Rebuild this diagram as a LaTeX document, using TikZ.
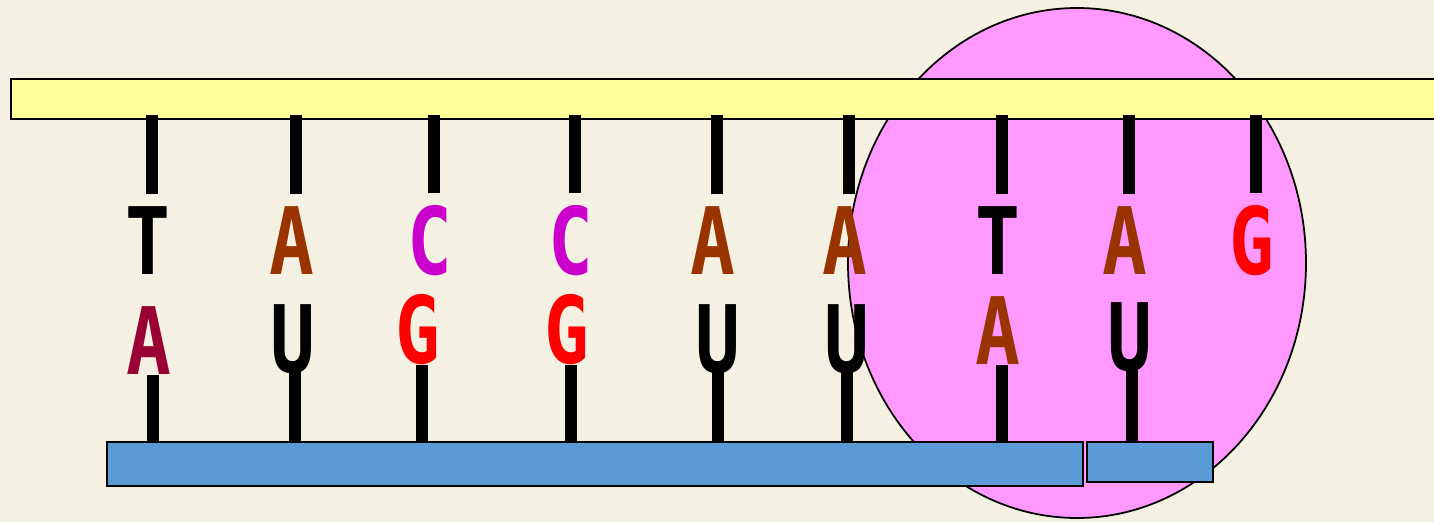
\documentclass[tikz,border=0pt]{standalone}
\usepackage{fontspec}
\usepackage{xcolor}
\usepackage{tikz}
\newfontfamily\nucfont{DejaVu Sans Mono}

\definecolor{paper}{RGB}{244,241,226}
\definecolor{dnayellow}{RGB}{255,255,153}
\definecolor{polpink}{RGB}{255,153,255}
\definecolor{rnablue}{RGB}{91,155,213}
\definecolor{abrown}{RGB}{153,51,0}
\definecolor{cmagenta}{RGB}{204,0,204}
\definecolor{acrimson}{RGB}{153,0,51}

\tikzset{
    nucleo/.style={font=\nucfont\bfseries\fontsize{26.5}{26.5}\selectfont, inner sep=0pt, anchor=base, xscale=0.8},
    bond/.style={line width=3.2pt},
    strand/.style={draw, line width=0.7pt, inner sep=0pt, anchor=south west}
}

\begin{document}
\begin{tikzpicture}
    % Background
    \useasboundingbox (0,0) rectangle (14.34,5.22);
    \clip (0,0) rectangle (14.34,5.22);
    \fill [paper] (0,0) rectangle (14.34,5.22);

    % RNA polymerase
    \filldraw [fill=polpink, draw=black, line width=0.5pt] (10.77,2.59) ellipse (2.29 and 2.55);

    % DNA template strand (bonds reach a little into it)
    \node [strand, fill=dnayellow, minimum width=14.6cm, minimum height=0.4cm, outer sep=-1.2pt] (dna) at (0.15,4.07) {};

    % mRNA
    \node [strand, fill=rnablue, minimum width=9.76cm, minimum height=0.44cm] (mrna) at (1.06,0.35) {};
    \node [strand, fill=rnablue, minimum width=1.26cm, minimum height=0.40cm] (mrnatip) at (10.86,0.39) {};

    % DNA bases
    \node [nucleo] (d1) at (1.48,2.47) {T};
    \node [nucleo, abrown] (d2) at (2.92,2.47) {A};
    \node [nucleo, cmagenta] (d3) at (4.30,2.47) {C};
    \node [nucleo, cmagenta] (d4) at (5.71,2.47) {C};
    \node [nucleo, abrown] (d5) at (7.13,2.47) {A};
    \node [nucleo, abrown] (d6) at (8.45,2.47) {A};
    \node [nucleo] (d7) at (9.98,2.47) {T};
    \node [nucleo, abrown] (d8) at (11.25,2.47) {A};
    \node [nucleo, red] (d9) at (12.52,2.47) {G};

    % RNA bases
    \node [nucleo, acrimson] (r1) at (1.49,1.48) {A};
    \node [nucleo] (r2) at (2.93,1.50) {U};
    \node [nucleo, red] (r3) at (4.18,1.59) {G};
    \node [nucleo, red] (r4) at (5.67,1.59) {G};
    \node [nucleo] (r5) at (7.18,1.50) {U};
    \node [nucleo] (r6) at (8.47,1.50) {U};
    \node [nucleo, abrown] (r7) at (9.98,1.58) {A};
    \node [nucleo] (r8) at (11.30,1.52) {U};

    % Bonds to the DNA strand
    \draw [bond] ([shift={(0.04,0.12)}]d1.north) -- ([xshift=0.04cm]d1.north |- dna.south);
    \draw [bond] ([shift={(0.04,0.12)}]d2.north) -- ([xshift=0.04cm]d2.north |- dna.south);
    \draw [bond] ([shift={(0.04,0.12)}]d3.north) -- ([xshift=0.04cm]d3.north |- dna.south);
    \draw [bond] ([shift={(0.04,0.12)}]d4.north) -- ([xshift=0.04cm]d4.north |- dna.south);
    \draw [bond] ([shift={(0.04,0.12)}]d5.north) -- ([xshift=0.04cm]d5.north |- dna.south);
    \draw [bond] ([shift={(0.04,0.12)}]d6.north) -- ([xshift=0.04cm]d6.north |- dna.south);
    \draw [bond] ([shift={(0.04,0.12)}]d7.north) -- ([xshift=0.04cm]d7.north |- dna.south);
    \draw [bond] ([shift={(0.04,0.12)}]d8.north) -- ([xshift=0.04cm]d8.north |- dna.south);
    \draw [bond] ([shift={(0.04,0.12)}]d9.north) -- ([xshift=0.04cm]d9.north |- dna.south);

    % Bonds to the mRNA
    \draw [bond] ([xshift=0.04cm]r1.south) -- ([xshift=0.04cm]r1.south |- mrna.north);
    \draw [bond] ([shift={(0.02,0.04)}]r2.south) -- ([xshift=0.02cm]r2.south |- mrna.north);
    \draw [bond] ([xshift=0.04cm]r3.south) -- ([xshift=0.04cm]r3.south |- mrna.north);
    \draw [bond] ([xshift=0.04cm]r4.south) -- ([xshift=0.04cm]r4.south |- mrna.north);
    \draw [bond] ([yshift=0.04cm]r5.south) -- (r5.south |- mrna.north);
    \draw [bond] ([yshift=0.04cm]r6.south) -- (r6.south |- mrna.north);
    \draw [bond] ([xshift=0.04cm]r7.south) -- ([xshift=0.04cm]r7.south |- mrna.north);
    \draw [bond] ([shift={(0.02,0.04)}]r8.south) -- ([xshift=0.02cm]r8.south |- mrnatip.north);
\end{tikzpicture}
\end{document}
